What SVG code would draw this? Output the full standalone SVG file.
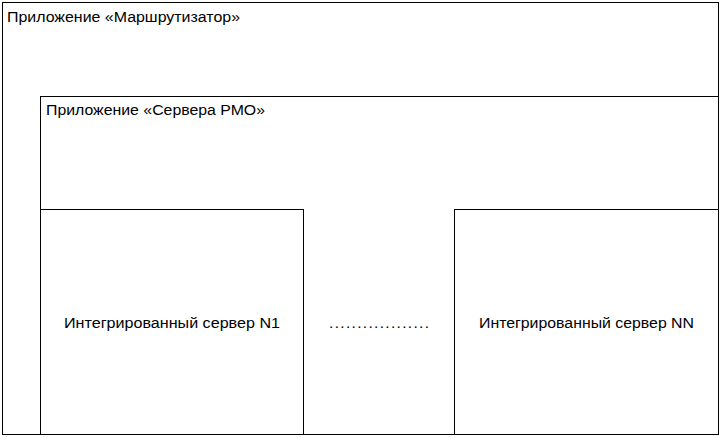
<svg xmlns="http://www.w3.org/2000/svg" width="721" height="437" viewBox="0 0 721 437">
<style>
.box{fill:#fff;stroke:#000;stroke-width:1}
.t{font-family:"Liberation Sans",Arial,sans-serif;font-size:15.5px;fill:#000}
</style>
<rect x="0" y="0" width="721" height="437" fill="#fff"/>
<g id="router">
<rect class="box" x="2.5" y="2.5" width="716" height="432"/>
<text class="t" x="7" y="22" textLength="233" lengthAdjust="spacingAndGlyphs">Приложение «Маршрутизатор»</text>
</g>
<g id="rmo-server">
<rect class="box" x="40.5" y="96.5" width="678" height="338"/>
<text class="t" x="46" y="115" textLength="219" lengthAdjust="spacingAndGlyphs">Приложение «Сервера РМО»</text>
</g>
<g id="server-n1">
<rect class="box" x="40.5" y="209.5" width="263" height="225"/>
<text class="t" x="64" y="328" textLength="216" lengthAdjust="spacingAndGlyphs">Интегрированный сервер N1</text>
</g>
<g id="dots">
<text class="t" x="329" y="328" textLength="100" lengthAdjust="spacing">..................</text>
</g>
<g id="server-nn">
<rect class="box" x="454.5" y="209.5" width="264" height="225"/>
<text class="t" x="479" y="328" textLength="215" lengthAdjust="spacingAndGlyphs">Интегрированный сервер NN</text>
</g>
<g id="connectors"/>
</svg>
